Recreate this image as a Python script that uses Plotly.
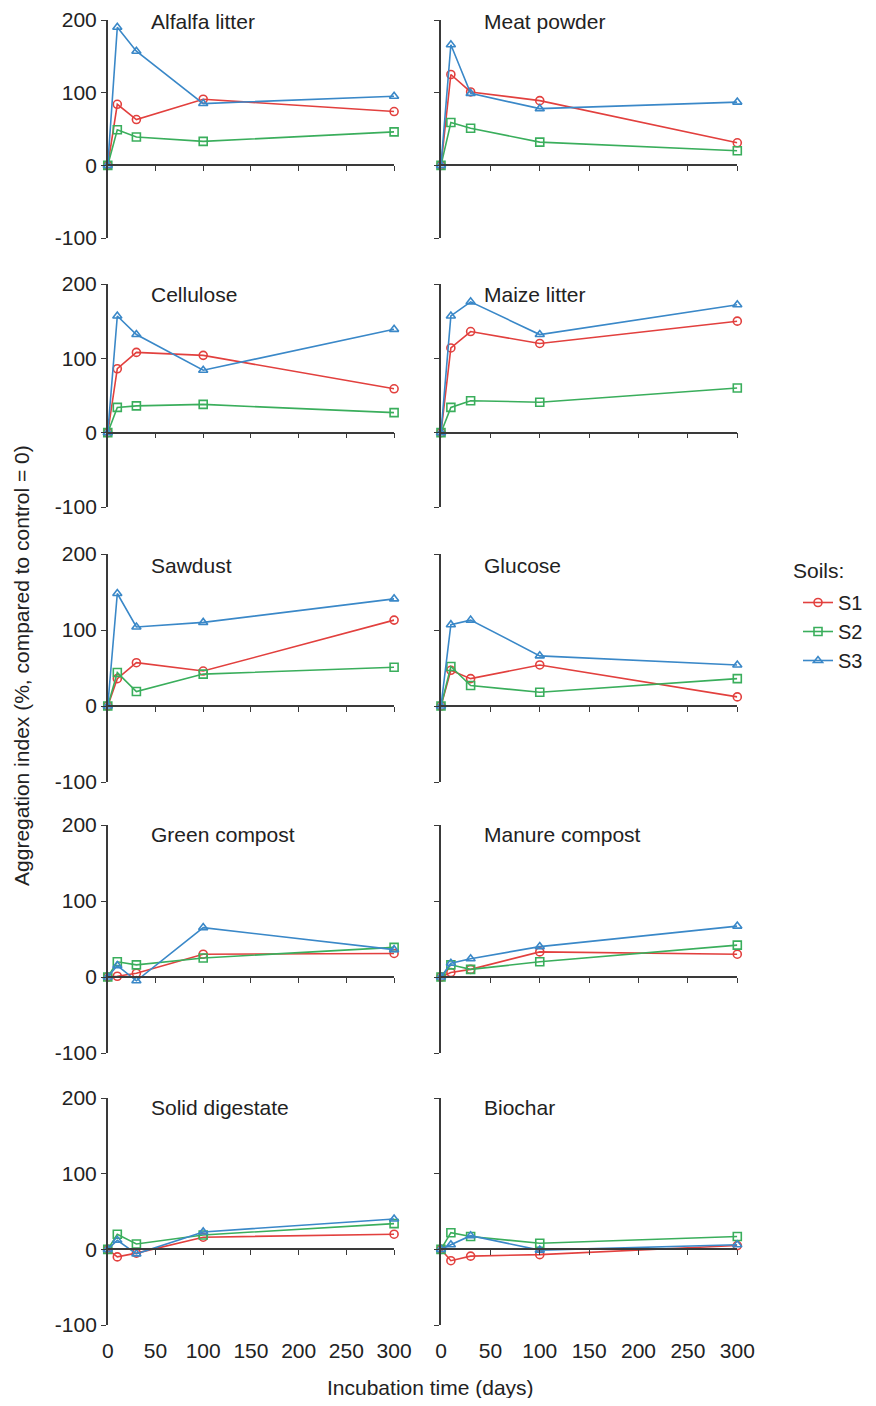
import plotly.graph_objects as go

# page body has an 8px default margin -> figure is 860x1390, offsets shifted by 8px
OFF = 8
W, H = 860, 1390

# ---------------- data ----------------
days = [0, 10, 30, 100, 300]
panels = ["Alfalfa litter", "Meat powder", "Cellulose", "Maize litter", "Sawdust",
          "Glucose", "Green compost", "Manure compost", "Solid digestate", "Biochar"]
soils = ["S1", "S2", "S3"]

s1_values = [
    [0, 84, 63, 91, 74],      # Alfalfa litter
    [0, 125, 101, 89, 31],    # Meat powder
    [0, 86, 108, 104, 59],    # Cellulose
    [0, 114, 136, 120, 150],  # Maize litter
    [0, 36, 57, 46, 113],     # Sawdust
    [0, 47, 36, 54, 12],      # Glucose
    [0, 1, 5, 30, 31],        # Green compost
    [0, 6, 10, 33, 30],       # Manure compost
    [0, -10, -5, 16, 20],     # Solid digestate
    [0, -15, -9, -7, 5],      # Biochar
]
s2_values = [
    [0, 49, 39, 33, 46],
    [0, 59, 51, 32, 20],
    [0, 34, 36, 38, 27],
    [0, 34, 43, 41, 60],
    [0, 44, 19, 42, 51],
    [0, 52, 27, 18, 36],
    [0, 20, 16, 25, 39],
    [0, 16, 10, 20, 42],
    [0, 20, 7, 19, 34],
    [0, 22, 17, 8, 17],
]
s3_values = [
    [0, 190, 157, 85, 95],
    [0, 166, 99, 78, 87],
    [0, 157, 132, 84, 139],
    [0, 157, 176, 132, 172],
    [0, 148, 104, 110, 141],
    [0, 107, 113, 66, 54],
    [0, 15, -5, 65, 36],
    [0, 18, 24, 40, 67],
    [0, 12, -6, 23, 40],
    [0, 6, 18, -1, 6],
]
x_ticks = [0, 50, 100, 150, 200, 250, 300]
y_ticks = [-100, 0, 100, 200]
y_ticktext = ["-100", "0", "100", "200"]

# ---------------- styling ----------------
colors = ["#e2403e", "#3aae5c", "#3a88c8"]
symbols = ["circle-open", "square-open", "triangle-up-open"]
font_family = "Arial, Liberation Sans, sans-serif"
axis_color = "#3a3a3a"
text_color = "#222222"


def fx(x):
    return (x - OFF) / W


def fy(y):
    return 1 - (y - OFF) / H


col_px = [(108, 395), (442, 739)]
row_px = [(20, 238), (284, 507), (554, 782), (825, 1053), (1098, 1325)]
title_px = [22, 295, 565, 834, 1107]

fig = go.Figure()
layout = dict(
    width=W, height=H,
    margin=dict(l=0, r=0, t=0, b=0),
    paper_bgcolor="white", plot_bgcolor="rgba(0,0,0,0)",
    font=dict(family=font_family, size=21, color=text_color),
    showlegend=True,
    legend=dict(
        x=fx(800), y=fy(583), xanchor="left", yanchor="top",
        font=dict(size=20), tracegroupgap=0, itemwidth=30,
        bgcolor="rgba(0,0,0,0)",
    ),
)

annotations = []
all_values = [s1_values, s2_values, s3_values]
for i, name in enumerate(panels):
    r, c = divmod(i, 2)
    idx = i + 1
    xname = "x" if idx == 1 else f"x{idx}"
    yname = "y" if idx == 1 else f"y{idx}"
    xl, xr = col_px[c]
    yt, yb = row_px[r]
    xdom = [fx(xl), fx(xr)]
    ydom = [fy(yb), fy(yt)]
    zero_pos = ydom[0] + (ydom[1] - ydom[0]) / 3.0
    bottom = (r == 4)

    for k in range(3):
        fig.add_trace(go.Scatter(
            x=days, y=all_values[k][i], mode="lines+markers", name=soils[k],
            legendgroup=soils[k], showlegend=(i == 0),
            line=dict(color=colors[k], width=1.6),
            marker=dict(symbol=symbols[k], size=8, color=colors[k],
                        line=dict(width=1.6, color=colors[k])),
            cliponaxis=False, xaxis=xname, yaxis=yname,
        ))

    xa = dict(
        domain=xdom, anchor="free", position=zero_pos, range=[0, 300],
        tickvals=x_ticks, ticks="outside", ticklen=5, tickwidth=1.4,
        tickcolor=axis_color, showline=True, linecolor=axis_color, linewidth=1.5,
        showgrid=False, zeroline=False, showticklabels=bottom,
        tickfont=dict(size=21, color=text_color), automargin=False,
        ticklabeloverflow="allow",
    )
    if bottom:
        xa["ticklabelstandoff"] = 78
    ya = dict(
        domain=ydom, anchor=xname, range=[-100, 200], tickvals=y_ticks,
        ticktext=y_ticktext,
        ticks="outside", ticklen=5, tickwidth=1.4, tickcolor=axis_color,
        showline=True, linecolor=axis_color, linewidth=1.5, showgrid=False,
        zeroline=False, showticklabels=(c == 0),
        tickfont=dict(size=21, color=text_color), automargin=False,
        ticklabeloverflow="allow",
    )
    layout["xaxis" if idx == 1 else f"xaxis{idx}"] = xa
    layout["yaxis" if idx == 1 else f"yaxis{idx}"] = ya

    annotations.append(dict(
        text=name, xref="paper", yref="paper",
        x=fx(xl + 41), y=fy(title_px[r]), xanchor="left", yanchor="middle",
        showarrow=False, font=dict(size=21, color=text_color),
    ))

annotations.append(dict(
    text="Soils:", xref="paper", yref="paper",
    x=fx(793), y=fy(570), xanchor="left", yanchor="middle",
    showarrow=False, font=dict(size=21, color=text_color),
))
annotations.append(dict(
    text="Incubation time (days)", xref="paper", yref="paper",
    x=fx(431), y=fy(1387), xanchor="center", yanchor="middle",
    showarrow=False, font=dict(size=21, color=text_color),
))
annotations.append(dict(
    text="Aggregation index (%, compared to control = 0)", xref="paper", yref="paper",
    x=fx(21), y=fy(665), xanchor="center", yanchor="middle", textangle=-90,
    showarrow=False, font=dict(size=21, color=text_color),
))
layout["annotations"] = annotations

fig.update_layout(**layout)
fig.write_html("out.html")
